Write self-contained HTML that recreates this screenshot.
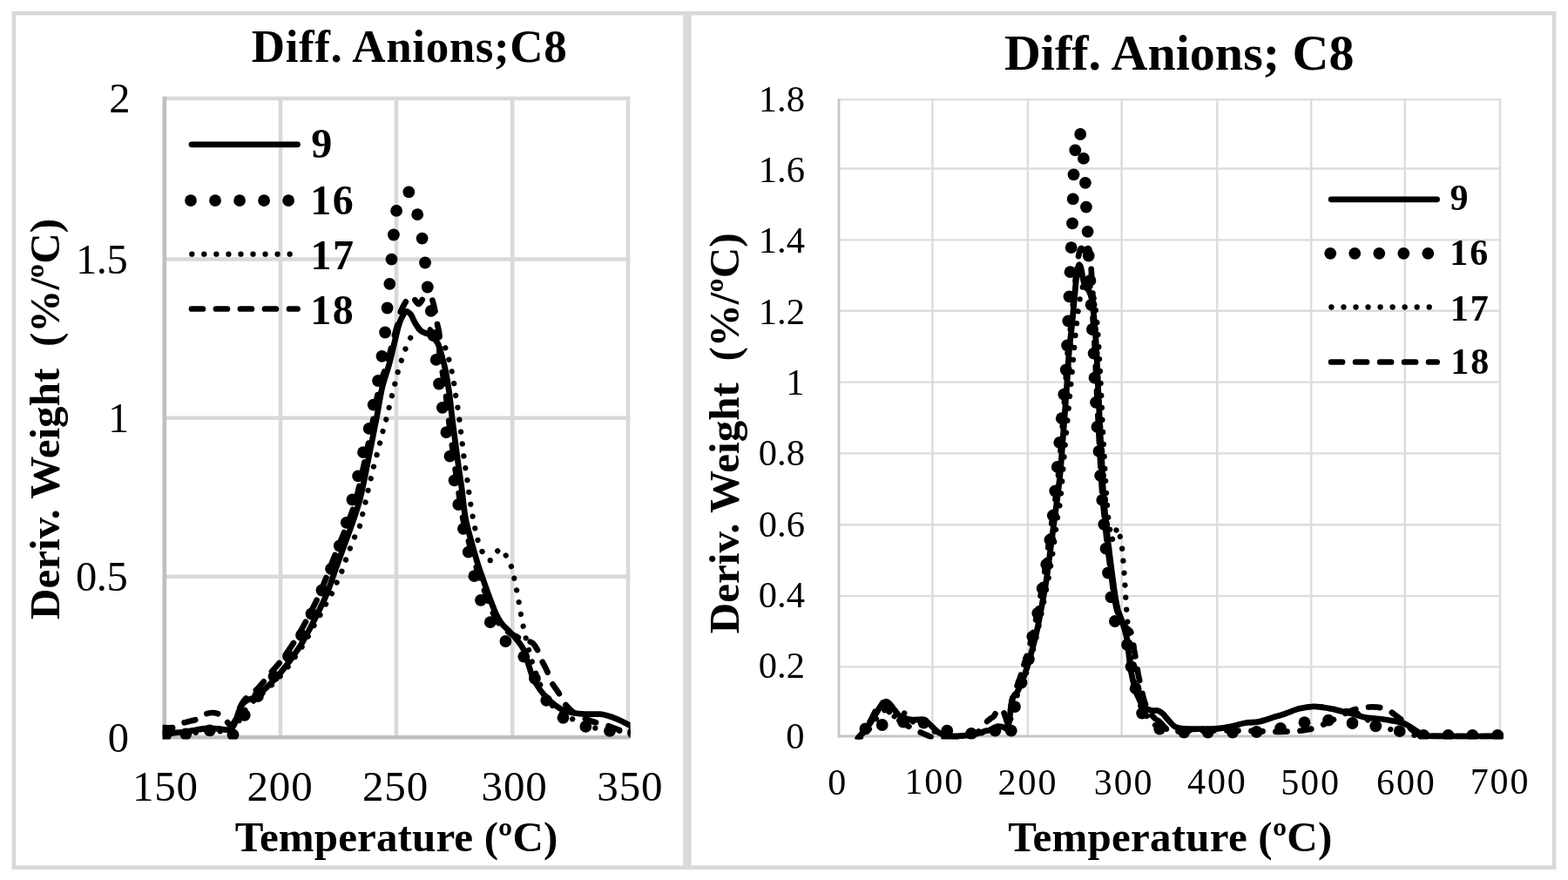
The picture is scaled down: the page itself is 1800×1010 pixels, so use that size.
<!DOCTYPE html>
<html lang="en"><head><meta charset="utf-8"><title>Diff. Anions; C8</title>
<style>html,body{margin:0;padding:0;background:#fff;}body{width:1800px;height:1010px;overflow:hidden;}svg{display:block;}text{font-family:'Liberation Serif', 'Times New Roman', serif;fill:#000;}.b{font-weight:bold;}.c{fill:none;stroke:#000;stroke-linejoin:round;}</style></head><body>
<svg width="1800" height="1010" viewBox="0 0 1800 1010">
<rect width="1800" height="1010" fill="#fff"/>
<g fill="none" stroke="#d9d9d9" stroke-width="4.7">
<rect x="15.95" y="15.2" width="770.6" height="980.5"/>
<rect x="791.25" y="15.2" width="992.8" height="980.5"/>
</g>
<g stroke="#d9d9d9" stroke-width="4.6" fill="none">
<line x1="322.0" y1="110.7" x2="322.0" y2="846.2"/>
<line x1="455.0" y1="110.7" x2="455.0" y2="846.2"/>
<line x1="588.2" y1="110.7" x2="588.2" y2="846.2"/>
<line x1="721.0" y1="110.7" x2="721.0" y2="846.2"/>
<line x1="188.8" y1="661.8" x2="723.3" y2="661.8"/>
<line x1="188.8" y1="479.75" x2="723.3" y2="479.75"/>
<line x1="188.8" y1="297.5" x2="723.3" y2="297.5"/>
<line x1="188.8" y1="113.0" x2="723.3" y2="113.0"/>
</g>
<g stroke="#bfbfbf" stroke-width="4.6" fill="none">
<line x1="188.8" y1="110.7" x2="188.8" y2="848.5"/>
<line x1="186.5" y1="846.2" x2="723.3" y2="846.2"/>
</g>
<g stroke="#dcdcdc" stroke-width="2.4" fill="none">
<line x1="1070.4" y1="113.2" x2="1070.4" y2="845"/>
<line x1="1179.9" y1="113.2" x2="1179.9" y2="845"/>
<line x1="1287.6" y1="113.2" x2="1287.6" y2="845"/>
<line x1="1397.3" y1="113.2" x2="1397.3" y2="845"/>
<line x1="1505.2" y1="113.2" x2="1505.2" y2="845"/>
<line x1="1612.7" y1="113.2" x2="1612.7" y2="845"/>
<line x1="1722.0" y1="113.2" x2="1722.0" y2="845"/>
<line x1="963" y1="765.4" x2="1723.2" y2="765.4"/>
<line x1="963" y1="684.1" x2="1723.2" y2="684.1"/>
<line x1="963" y1="602.3" x2="1723.2" y2="602.3"/>
<line x1="963" y1="520.4" x2="1723.2" y2="520.4"/>
<line x1="963" y1="438.6" x2="1723.2" y2="438.6"/>
<line x1="963" y1="356.75" x2="1723.2" y2="356.75"/>
<line x1="963" y1="275.4" x2="1723.2" y2="275.4"/>
<line x1="963" y1="193.55" x2="1723.2" y2="193.55"/>
<line x1="963" y1="114.4" x2="1723.2" y2="114.4"/>
</g>
<g stroke="#c6c6c6" stroke-width="2.8" fill="none">
<line x1="963" y1="113.2" x2="963" y2="846.2"/>
<line x1="961.8" y1="845" x2="1723.2" y2="845"/>
</g>
<defs>
<clipPath id="cl"><rect x="186.6" y="100" width="537" height="748.6"/></clipPath>
<clipPath id="cr"><rect x="961" y="100" width="764.8" height="748.6"/></clipPath>
</defs>
<g clip-path="url(#cl)">
<path class="c" stroke-width="6.3" stroke-linecap="round" stroke-dasharray="0.01 13.99" stroke-dashoffset="11.31" d="M180.0,842.0C183.3,842.0 193.3,842.2 200.0,842.0C206.7,841.8 213.3,841.3 220.0,841.0C226.7,840.7 233.7,840.3 240.0,840.0C246.3,839.7 253.5,839.3 258.0,839.0C262.5,838.7 264.7,839.2 267.0,838.0C269.3,836.8 270.2,835.0 272.0,832.0C273.8,829.0 275.8,823.7 278.0,820.0C280.2,816.3 282.5,812.8 285.0,810.0C287.5,807.2 290.5,805.2 293.0,803.0C295.5,800.8 297.2,799.5 300.0,797.0C302.8,794.5 306.7,791.2 310.0,788.0C313.3,784.8 316.7,781.7 320.0,778.0C323.3,774.3 326.7,770.3 330.0,766.0C333.3,761.7 336.7,756.8 340.0,752.0C343.3,747.2 346.5,742.8 350.0,737.0C353.5,731.2 357.9,722.7 360.8,717.5C363.7,712.3 365.3,709.8 367.5,705.8C369.7,701.8 372.0,697.4 374.2,693.3C376.4,689.2 378.7,685.5 380.8,681.3C382.9,677.1 384.8,672.6 386.7,668.3C388.6,664.0 390.8,659.6 392.5,655.4C394.2,651.2 395.2,647.5 396.7,643.3C398.2,639.1 400.0,634.4 401.7,630.0C403.4,625.6 404.9,621.4 406.8,617.0C408.7,612.6 411.4,608.2 413.0,603.8C414.6,599.3 415.1,594.8 416.2,590.3C417.3,585.8 418.4,581.2 419.5,576.7C420.6,572.2 421.5,567.6 422.5,563.0C423.5,558.4 424.6,553.9 425.7,549.3C426.8,544.7 427.9,539.9 429.0,535.4C430.1,530.9 431.4,526.5 432.6,522.0C433.8,517.5 435.0,512.9 436.2,508.3C437.4,503.8 438.4,499.2 439.6,494.7C440.8,490.2 442.1,485.8 443.3,481.4C444.5,476.9 445.5,472.6 446.6,468.0C447.7,463.4 448.9,458.6 450.0,454.0C451.1,449.4 452.3,444.8 453.4,440.2C454.5,435.6 455.6,431.1 456.8,426.7C458.0,422.3 459.4,418.2 460.8,413.8C462.2,409.4 463.7,404.8 465.5,400.4C467.3,396.0 469.3,390.9 471.4,387.3C473.5,383.7 475.7,380.9 478.0,379.0C480.3,377.1 482.7,376.2 485.0,376.0C487.3,375.8 489.7,376.6 492.0,377.5C494.3,378.4 496.8,379.7 499.0,381.5C501.2,383.3 503.4,385.4 505.5,388.5C507.6,391.6 509.9,395.8 511.5,399.9C513.1,404.0 514.2,408.5 515.4,412.9C516.6,417.3 517.7,421.8 518.7,426.3C519.7,430.9 520.5,435.6 521.2,440.2C522.0,444.8 522.5,449.5 523.2,454.1C523.9,458.7 524.7,463.1 525.4,467.7C526.1,472.3 526.8,477.2 527.4,481.9C528.0,486.6 528.5,491.1 529.1,495.8C529.7,500.5 530.2,505.1 530.8,509.8C531.3,514.5 531.8,519.1 532.4,523.7C533.0,528.3 533.7,533.0 534.4,537.6C535.1,542.2 535.9,546.7 536.5,551.3C537.1,555.9 537.7,560.4 538.3,565.0C538.9,569.6 539.6,574.3 540.3,578.9C541.0,583.5 541.8,588.0 542.6,592.6C543.4,597.2 544.3,601.7 545.3,606.3C546.3,610.9 547.2,615.7 548.6,620.2C550.0,624.7 551.2,629.3 553.6,633.1C556.0,636.9 559.9,643.3 562.8,643.2C565.7,643.1 569.0,634.5 571.2,632.4C573.4,630.3 574.4,629.6 576.0,630.5C577.6,631.4 579.0,634.4 580.9,637.8C582.8,641.2 585.5,646.3 587.1,650.7C588.7,655.1 589.4,659.7 590.4,664.2C591.4,668.8 592.4,673.4 593.3,678.0C594.2,682.6 595.0,687.2 595.8,691.8C596.6,696.4 597.3,701.2 598.1,705.8C598.9,710.4 599.8,715.0 600.8,719.5C601.8,724.0 602.8,728.3 603.8,732.7C604.8,737.1 605.8,741.5 607.0,746.0C608.2,750.5 609.5,755.2 611.0,760.0C612.5,764.8 614.2,770.0 616.0,775.0C617.8,780.0 619.7,785.0 622.0,790.0C624.3,795.0 626.7,800.5 630.0,805.0C633.3,809.5 637.2,813.5 642.0,817.0C646.8,820.5 651.4,822.8 658.5,825.9C665.6,829.0 675.5,833.7 684.5,835.9C693.5,838.1 705.0,838.2 712.6,838.9C720.2,839.6 727.1,839.8 730.0,840.0"/>
<path class="c" stroke-width="6.7" stroke-linecap="round" stroke-dasharray="13.0 15.0" stroke-dashoffset="23.10" d="M180.0,835.0C183.2,835.0 194.3,835.8 199.0,835.0C203.7,834.2 205.0,831.7 208.0,830.5C211.0,829.3 214.0,828.8 217.0,828.0C220.0,827.2 223.2,826.8 226.0,825.5C228.8,824.2 231.2,821.8 234.0,820.5C236.8,819.2 240.0,818.1 243.0,818.0C246.0,817.9 249.3,818.6 252.0,820.0C254.7,821.4 257.0,824.5 259.0,826.5C261.0,828.5 262.5,831.4 264.0,832.0C265.5,832.6 266.7,831.7 268.0,830.0C269.3,828.3 270.7,825.2 272.0,822.0C273.3,818.8 274.5,814.2 276.0,811.0C277.5,807.8 279.0,805.3 281.0,803.0C283.0,800.7 285.7,799.0 288.0,797.0C290.3,795.0 292.5,793.5 295.0,791.0C297.5,788.5 300.3,785.2 303.0,782.0C305.7,778.8 307.9,775.7 311.0,772.0C314.1,768.3 317.9,764.5 321.5,760.0C325.1,755.5 328.9,750.0 332.3,745.0C335.7,740.0 338.8,735.0 341.8,730.0C344.8,725.0 347.5,720.0 350.2,715.0C352.9,710.0 355.6,705.0 358.1,700.0C360.6,695.0 363.1,690.0 365.4,685.0C367.7,680.0 369.7,675.0 371.7,670.0C373.7,665.0 375.6,660.0 377.5,655.0C379.4,650.0 381.4,645.0 383.4,640.0C385.4,635.0 387.3,630.0 389.3,625.0C391.3,620.0 393.5,615.0 395.5,610.0C397.5,605.0 399.3,600.8 401.4,595.0C403.5,589.2 406.1,582.2 408.2,575.0C410.2,567.8 411.8,560.3 413.7,552.0C415.6,543.7 418.6,529.5 419.6,525.0"/>
<path class="c" stroke-width="6.7" stroke-linecap="round" stroke-dasharray="13.0 15.0" stroke-dashoffset="24.07" d="M419.6,525.0C421.1,517.8 425.7,495.3 428.3,482.0C430.9,468.7 432.5,455.8 435.2,445.0C437.9,434.2 441.7,426.2 444.4,417.0C447.1,407.8 449.4,397.5 451.4,390.0C453.4,382.5 455.1,377.3 456.5,372.0C457.9,366.7 458.2,362.3 459.8,358.0C461.4,353.7 464.3,348.8 466.0,346.0C467.7,343.2 468.7,342.3 470.0,341.5C471.3,340.7 472.2,339.8 474.0,341.0C475.8,342.2 478.4,348.9 480.6,349.0C482.8,349.1 484.6,342.7 487.0,341.5C489.4,340.3 493.0,339.8 495.0,342.0C497.0,344.2 497.8,350.0 499.0,355.0C500.2,360.0 501.1,367.0 502.0,372.0C502.9,377.0 504.1,378.9 504.5,385.0C504.9,391.1 504.0,402.1 504.5,408.8C505.0,415.6 506.4,418.5 507.6,425.5C508.8,432.5 510.3,441.5 511.5,450.6C512.7,459.7 513.2,466.9 514.9,480.2C516.6,493.5 519.7,517.1 521.5,530.4C523.3,543.7 524.2,549.5 525.8,560.0C527.4,570.5 529.0,583.5 531.0,593.5C533.0,603.5 535.5,611.8 537.7,620.2C539.9,628.6 543.3,639.8 544.4,643.7"/>
<path class="c" stroke-width="6.7" stroke-linecap="round" stroke-dasharray="13.0 15.0" stroke-dashoffset="20.27" d="M544.4,643.7C545.5,647.0 548.6,656.5 551.1,663.7C553.6,671.0 557.0,680.5 559.5,687.2C562.0,693.9 563.9,699.2 566.1,703.9C568.3,708.6 570.2,712.2 572.8,715.6C575.4,719.0 578.4,721.6 581.5,724.0C584.6,726.4 588.6,728.3 591.7,730.0C594.8,731.7 597.5,733.0 600.0,734.0C602.5,735.0 605.0,735.2 607.0,736.0C609.0,736.8 610.3,736.8 612.0,738.5C613.7,740.2 615.4,742.9 617.0,746.0C618.6,749.1 619.5,752.9 621.4,756.9C623.2,760.9 626.1,766.0 628.1,770.3C630.1,774.6 630.9,778.7 633.1,782.9C635.3,787.1 639.0,791.5 641.4,795.4C643.8,799.3 644.9,802.9 647.3,806.3C649.7,809.6 652.8,812.9 655.7,815.5C658.7,818.1 661.0,819.9 665.0,822.0C669.0,824.1 674.9,826.3 680.0,828.0C685.1,829.7 690.1,830.4 695.8,832.2C701.5,834.0 708.3,837.3 714.0,838.9C719.7,840.5 727.3,841.5 730.0,842.0"/>
<path class="c" stroke-width="6.8" stroke-linecap="round" d="M180.0,841.0C183.3,841.0 194.5,841.2 200.0,841.0C205.5,840.8 208.7,840.6 213.0,840.0C217.3,839.4 221.8,838.2 226.0,837.5C230.2,836.8 233.8,836.2 238.0,836.0C242.2,835.8 246.8,836.2 251.0,836.5C255.2,836.8 260.2,837.9 263.0,837.5C265.8,837.1 266.2,835.6 267.5,834.0C268.8,832.4 269.4,830.8 270.5,828.0C271.6,825.2 272.7,820.3 274.0,817.0C275.3,813.7 276.8,810.2 278.5,808.0C280.2,805.8 281.9,804.7 284.0,803.5C286.1,802.3 288.5,802.4 291.0,801.0C293.5,799.6 296.2,797.2 299.0,795.0C301.8,792.8 304.8,790.0 307.5,787.5C310.2,785.0 312.4,782.8 315.0,780.0C317.6,777.2 320.5,774.0 323.0,771.0C325.5,768.0 327.6,765.2 330.0,762.0C332.4,758.8 334.4,756.2 337.3,752.0C340.2,747.8 344.0,742.5 347.3,736.9C350.6,731.3 354.0,724.9 357.3,718.5C360.6,712.1 364.3,704.8 367.4,698.4C370.5,692.0 372.8,687.6 375.8,680.0C378.8,672.4 382.2,661.8 385.5,652.6C388.8,643.4 392.2,633.9 395.5,625.0C398.8,616.1 402.0,607.8 405.0,599.0C408.0,590.2 410.5,583.6 413.4,572.2C416.3,560.8 419.1,545.7 422.2,530.4C425.3,515.1 429.4,494.4 432.2,480.2C434.9,466.0 436.2,455.5 438.7,445.0C441.2,434.5 443.9,428.7 447.0,417.1C450.1,405.5 454.7,384.3 457.2,375.3C459.7,366.3 460.6,365.9 462.0,363.0C463.4,360.1 464.3,358.4 465.5,357.7C466.7,356.9 467.9,357.8 469.0,358.5C470.1,359.2 470.8,359.7 472.2,361.9C473.6,364.1 475.2,368.8 477.2,371.9C479.1,375.0 481.1,378.2 483.9,380.3C486.7,382.4 490.9,382.3 494.0,384.5C497.1,386.7 500.1,389.6 502.3,393.7C504.5,397.8 505.8,403.5 507.3,408.8C508.8,414.1 510.1,418.5 511.5,425.5C512.9,432.5 514.4,441.5 515.7,450.6C517.0,459.7 517.4,466.9 519.1,480.2C520.8,493.5 523.9,517.1 525.7,530.4C527.5,543.7 528.6,549.5 530.0,560.0C531.4,570.5 532.4,583.5 534.2,593.5C536.0,603.5 538.5,611.8 540.7,620.2C542.9,628.6 545.2,636.5 547.4,643.7C549.6,651.0 551.6,656.5 554.1,663.7C556.6,671.0 560.0,680.5 562.5,687.2C565.0,693.9 566.9,699.2 569.1,703.9C571.3,708.6 573.3,712.2 575.8,715.6C578.3,719.0 581.4,721.0 584.2,724.0C587.0,727.0 589.8,730.0 592.6,733.5C595.4,737.0 598.7,740.7 600.9,745.2C603.1,749.7 604.2,755.0 606.0,760.3C607.8,765.6 609.1,771.7 611.5,777.0C613.9,782.3 617.1,787.6 620.3,792.1C623.5,796.6 626.6,800.2 630.6,803.8C634.6,807.4 639.5,811.4 644.0,813.8C648.5,816.2 652.7,817.0 657.4,818.0C662.1,819.0 667.1,819.4 672.4,819.7C677.7,820.0 684.1,819.2 689.1,819.7C694.1,820.2 698.3,821.6 702.5,823.0C706.7,824.4 710.9,826.5 714.2,828.0C717.6,829.5 720.0,830.9 722.6,832.2C725.2,833.5 728.8,835.4 730.0,836.0"/>
<g fill="#000">
<circle cx="190.0" cy="844.0" r="6.9"/>
<circle cx="213.3" cy="842.5" r="6.9"/>
<circle cx="240.8" cy="838.3" r="6.9"/>
<circle cx="267.5" cy="843.3" r="6.9"/>
<circle cx="280.8" cy="820.8" r="6.9"/>
<circle cx="296.0" cy="799.0" r="6.9"/>
<circle cx="314.6" cy="776.3" r="6.9"/>
<circle cx="331.0" cy="753.0" r="6.9"/>
<circle cx="346.0" cy="729.0" r="6.9"/>
<circle cx="357.5" cy="704.5" r="6.9"/>
<circle cx="369.5" cy="677.5" r="6.9"/>
<circle cx="380.0" cy="652.8" r="6.9"/>
<circle cx="389.8" cy="626.5" r="6.9"/>
<circle cx="397.7" cy="599.8" r="6.9"/>
<circle cx="404.5" cy="573.5" r="6.9"/>
<circle cx="411.1" cy="546.3" r="6.9"/>
<circle cx="417.0" cy="519.2" r="6.9"/>
<circle cx="423.7" cy="491.9" r="6.9"/>
<circle cx="428.7" cy="464.6" r="6.9"/>
<circle cx="434.0" cy="437.0" r="6.9"/>
<circle cx="438.4" cy="408.8" r="6.9"/>
<circle cx="442.1" cy="381.5" r="6.9"/>
<circle cx="444.6" cy="353.5" r="6.9"/>
<circle cx="447.3" cy="325.8" r="6.9"/>
<circle cx="449.5" cy="297.6" r="6.9"/>
<circle cx="451.9" cy="269.5" r="6.9"/>
<circle cx="455.1" cy="241.9" r="6.9"/>
<circle cx="469.3" cy="220.3" r="6.9"/>
<circle cx="479.2" cy="246.2" r="6.9"/>
<circle cx="484.6" cy="273.6" r="6.9"/>
<circle cx="488.0" cy="301.5" r="6.9"/>
<circle cx="490.8" cy="329.5" r="6.9"/>
<circle cx="494.8" cy="356.9" r="6.9"/>
<circle cx="497.5" cy="385.0" r="6.9"/>
<circle cx="500.7" cy="412.9" r="6.9"/>
<circle cx="504.0" cy="440.5" r="6.9"/>
<circle cx="507.8" cy="467.8" r="6.9"/>
<circle cx="512.4" cy="496.1" r="6.9"/>
<circle cx="516.5" cy="523.7" r="6.9"/>
<circle cx="521.6" cy="551.3" r="6.9"/>
<circle cx="526.3" cy="579.0" r="6.9"/>
<circle cx="531.9" cy="606.8" r="6.9"/>
<circle cx="537.7" cy="633.6" r="6.9"/>
<circle cx="544.4" cy="661.2" r="6.9"/>
<circle cx="551.9" cy="688.8" r="6.9"/>
<circle cx="562.8" cy="714.1" r="6.9"/>
<circle cx="580.4" cy="736.0" r="6.9"/>
<circle cx="601.3" cy="753.6" r="6.9"/>
<circle cx="613.9" cy="778.7" r="6.9"/>
<circle cx="627.2" cy="803.8" r="6.9"/>
<circle cx="646.5" cy="823.8" r="6.9"/>
<circle cx="672.4" cy="833.9" r="6.9"/>
<circle cx="700.0" cy="838.9" r="6.9"/>
<circle cx="727.0" cy="841.0" r="6.9"/>
</g></g>
<g clip-path="url(#cr)">
<path class="c" stroke-width="6.3" stroke-linecap="round" stroke-dasharray="0.01 13.99" stroke-dashoffset="11.61" d="M986.0,848.0C986.8,847.3 989.2,845.7 991.0,844.0C992.8,842.3 995.0,840.3 997.0,838.0C999.0,835.7 1001.2,832.7 1003.0,830.0C1004.8,827.3 1006.3,824.2 1008.0,822.0C1009.7,819.8 1011.3,817.7 1013.0,816.5C1014.7,815.3 1016.3,814.6 1018.0,815.0C1019.7,815.4 1021.2,817.7 1023.0,819.0C1024.8,820.3 1026.8,823.2 1029.0,823.0C1031.2,822.8 1034.0,817.7 1036.0,817.5C1038.0,817.3 1039.2,820.2 1041.0,822.0C1042.8,823.8 1044.7,826.7 1047.0,828.0C1049.3,829.3 1052.5,829.3 1055.0,830.0C1057.5,830.7 1059.8,831.0 1062.0,832.0C1064.2,833.0 1065.8,834.5 1068.0,836.0C1070.2,837.5 1072.2,839.5 1075.0,841.0C1077.8,842.5 1080.8,844.2 1085.0,845.0C1089.2,845.8 1095.0,845.7 1100.0,845.5C1105.0,845.3 1111.3,844.4 1115.0,844.0C1118.7,843.6 1119.5,843.6 1122.0,843.0C1124.5,842.4 1127.5,841.0 1130.3,840.3C1133.0,839.7 1135.7,839.6 1138.4,839.2C1141.1,838.9 1144.0,838.5 1146.6,838.1C1149.1,837.8 1152.1,837.4 1153.9,837.0C1155.7,836.7 1156.6,837.2 1157.6,835.9C1158.5,834.6 1158.9,832.6 1159.6,829.3C1160.3,826.0 1161.2,820.0 1162.0,816.0C1162.9,811.9 1163.9,808.1 1164.9,804.9C1165.9,801.8 1167.1,799.6 1168.2,797.2C1169.2,794.8 1169.9,793.3 1171.0,790.5C1172.2,787.7 1173.7,784.1 1175.1,780.6C1176.4,777.0 1177.8,773.5 1179.2,769.5C1180.5,765.4 1181.9,761.0 1183.2,756.2C1184.6,751.4 1186.0,746.0 1187.3,740.7C1188.7,735.3 1190.0,730.4 1191.4,724.1C1192.8,717.7 1194.6,708.2 1195.8,702.5C1197.0,696.7 1197.6,694.0 1198.5,689.5C1199.4,685.1 1200.4,680.2 1201.3,675.7C1202.2,671.2 1203.1,667.0 1203.9,662.4C1204.8,657.8 1205.6,652.8 1206.4,648.0C1207.1,643.2 1208.0,638.3 1208.7,633.7C1209.4,629.1 1209.8,625.0 1210.4,620.3C1211.1,615.6 1211.8,610.4 1212.5,605.6C1213.2,600.7 1213.8,596.0 1214.5,591.2C1215.3,586.4 1216.4,581.5 1217.1,576.6C1217.7,571.6 1217.9,566.6 1218.4,561.6C1218.8,556.6 1219.3,551.6 1219.7,546.6C1220.1,541.5 1220.5,536.5 1220.9,531.4C1221.4,526.3 1221.8,521.3 1222.2,516.2C1222.7,511.1 1223.1,505.9 1223.6,500.8C1224.1,495.8 1224.6,491.0 1225.1,486.0C1225.5,481.0 1226.1,475.9 1226.5,470.8C1227.0,465.8 1227.4,460.7 1227.9,455.8C1228.4,450.8 1228.9,446.0 1229.4,441.0C1229.9,436.1 1230.3,431.3 1230.8,426.2C1231.2,421.1 1231.7,415.8 1232.2,410.7C1232.6,405.6 1233.1,400.4 1233.5,395.4C1234.0,390.4 1234.4,385.3 1234.9,380.5C1235.4,375.6 1236.0,371.0 1236.6,366.2C1237.1,361.3 1237.8,356.2 1238.5,351.3C1239.2,346.4 1240.0,340.8 1240.9,336.8C1241.7,332.9 1242.6,329.7 1243.6,327.6C1244.5,325.6 1245.5,324.6 1246.4,324.3C1247.4,324.0 1248.3,325.0 1249.3,326.0C1250.2,327.0 1251.2,328.4 1252.1,330.4C1253.0,332.4 1253.9,334.8 1254.8,338.2C1255.6,341.6 1256.5,346.3 1257.2,350.8C1257.9,355.3 1258.3,360.3 1258.8,365.2C1259.3,370.1 1259.8,375.0 1260.2,380.0C1260.5,385.1 1260.9,390.3 1261.2,395.4C1261.5,400.5 1261.7,405.7 1262.0,410.8C1262.3,415.9 1262.6,420.7 1262.9,425.9C1263.2,431.0 1263.4,436.4 1263.7,441.6C1264.0,446.8 1264.2,451.8 1264.4,457.0C1264.6,462.1 1264.9,467.3 1265.1,472.5C1265.3,477.6 1265.5,482.7 1265.7,487.9C1266.0,493.0 1266.3,498.2 1266.6,503.3C1266.8,508.4 1267.1,513.4 1267.4,518.4C1267.7,523.5 1267.9,528.5 1268.1,533.6C1268.4,538.7 1268.7,543.9 1269.0,549.0C1269.3,554.1 1269.6,559.1 1269.9,564.2C1270.2,569.2 1270.6,574.2 1271.0,579.3C1271.4,584.4 1271.8,589.8 1272.3,594.7C1272.9,599.7 1274.0,606.6 1274.4,609.0"/>
<path class="c" stroke-width="6.3" stroke-linecap="round" stroke-dasharray="0.01 13.99" stroke-dashoffset="3.91" d="M1274.4,609.0C1275.0,610.9 1276.9,620.3 1278.1,620.2C1279.3,620.1 1280.7,610.6 1281.6,608.2C1282.4,605.9 1282.9,605.1 1283.5,606.1C1284.2,607.1 1284.8,610.5 1285.5,614.2C1286.3,618.0 1287.4,623.6 1288.0,628.5C1288.7,633.4 1289.0,638.4 1289.4,643.5C1289.8,648.5 1290.2,653.6 1290.6,658.7C1290.9,663.8 1291.3,668.9 1291.6,674.0C1291.9,679.2 1292.2,684.4 1292.5,689.5C1292.9,694.6 1293.2,699.7 1293.6,704.7C1294.0,709.7 1294.4,714.4 1294.8,719.3C1295.3,724.2 1295.7,729.0 1296.1,734.0C1296.6,739.1 1297.2,744.2 1297.8,749.5C1298.4,754.9 1299.1,760.6 1299.8,766.2C1300.6,771.7 1301.3,777.2 1302.3,782.8C1303.2,788.3 1304.2,794.4 1305.5,799.4C1306.9,804.4 1308.5,808.8 1310.4,812.7C1312.3,816.5 1314.2,819.0 1317.1,822.5C1320.0,826.0 1324.1,831.2 1327.7,833.6C1331.4,836.0 1335.5,836.2 1339.2,836.9C1342.9,837.7 1346.2,838.0 1350.0,838.0C1353.8,838.0 1357.8,837.2 1362.0,837.0C1366.2,836.8 1370.3,836.8 1375.0,836.7C1379.7,836.7 1385.8,836.8 1390.0,836.7C1394.2,836.6 1396.4,836.4 1400.0,836.0C1403.6,835.6 1407.0,835.2 1411.7,834.2C1416.4,833.2 1422.8,831.0 1428.3,830.0C1433.8,829.0 1439.4,829.4 1445.0,828.3C1450.6,827.2 1456.7,824.8 1461.7,823.3C1466.7,821.8 1470.0,820.9 1475.0,819.2C1480.0,817.5 1486.2,814.7 1491.7,813.3C1497.2,811.9 1502.8,810.9 1508.3,810.8C1513.8,810.7 1519.4,811.7 1525.0,812.5C1530.6,813.3 1536.7,814.8 1541.7,815.5C1546.7,816.2 1551.0,815.6 1555.0,817.0C1559.0,818.4 1561.8,821.6 1566.0,824.0C1570.2,826.4 1575.5,829.5 1580.0,831.5C1584.5,833.5 1588.8,834.8 1593.3,836.2C1597.8,837.7 1602.5,838.8 1607.0,840.0C1611.5,841.2 1615.5,842.5 1620.0,843.3C1624.5,844.1 1627.3,844.7 1634.0,845.0C1640.7,845.3 1644.0,845.0 1660.0,845.0C1676.0,845.0 1718.3,845.0 1730.0,845.0"/>
<path class="c" stroke-width="6.7" stroke-linecap="round" stroke-dasharray="13.0 15.0" stroke-dashoffset="4.80" d="M985.0,847.0C985.8,846.0 988.3,843.2 990.0,841.0C991.7,838.8 993.3,836.5 995.0,834.0C996.7,831.5 998.4,828.8 1000.0,826.0C1001.6,823.2 1003.2,819.8 1004.5,817.0C1005.8,814.2 1006.9,810.8 1008.0,809.0C1009.1,807.2 1009.9,806.1 1011.0,806.0C1012.1,805.9 1013.2,807.0 1014.5,808.5C1015.8,810.0 1017.1,812.8 1019.0,815.0C1020.9,817.2 1023.5,819.8 1026.0,822.0C1028.5,824.2 1031.3,826.2 1034.0,828.0C1036.7,829.8 1039.3,831.4 1042.0,833.0C1044.7,834.6 1047.0,836.0 1050.0,837.5C1053.0,839.0 1056.7,840.6 1060.0,842.0C1063.3,843.4 1065.8,845.2 1070.0,846.0C1074.2,846.8 1080.0,847.0 1085.0,847.0C1090.0,847.0 1095.0,846.7 1100.0,846.0C1105.0,845.3 1111.3,843.9 1115.0,843.0C1118.7,842.1 1119.5,842.2 1122.0,840.5C1124.5,838.8 1127.9,834.7 1129.8,832.6C1131.8,830.4 1132.3,828.9 1133.5,827.6C1134.7,826.3 1136.0,825.8 1137.2,824.8C1138.4,823.9 1139.7,823.5 1140.9,822.1C1142.0,820.7 1143.0,817.9 1144.1,816.5C1145.3,815.2 1146.6,813.9 1147.8,813.8C1149.0,813.7 1150.4,814.4 1151.4,816.0C1152.5,817.6 1153.5,821.0 1154.3,823.2C1155.1,825.4 1155.7,828.6 1156.3,829.3C1157.0,829.9 1157.4,828.9 1158.0,827.1C1158.5,825.2 1159.1,821.7 1159.6,818.2C1160.1,814.7 1160.6,809.5 1161.2,806.0C1161.8,802.5 1162.5,799.7 1163.3,797.2C1164.1,794.6 1165.2,792.7 1166.1,790.5C1167.1,788.3 1168.0,786.6 1169.0,783.9C1170.0,781.1 1171.1,777.4 1172.2,773.9C1173.3,770.4 1175.0,764.7 1175.5,762.8"/>
<path class="c" stroke-width="6.7" stroke-linecap="round" stroke-dasharray="13.0 15.0" stroke-dashoffset="2.72" d="M1175.5,762.8C1176.2,760.6 1178.3,754.5 1179.8,749.5C1181.2,744.6 1182.8,738.5 1184.2,732.9C1185.6,727.4 1186.8,721.9 1188.1,716.3C1189.3,710.8 1190.4,705.3 1191.5,699.7C1192.6,694.2 1193.7,688.6 1194.7,683.1C1195.7,677.6 1196.7,672.0 1197.7,666.5C1198.6,661.0 1199.4,655.4 1200.2,649.9C1201.1,644.3 1201.8,638.8 1202.6,633.3C1203.4,627.7 1204.2,622.2 1205.0,616.7C1205.8,611.1 1206.6,605.6 1207.4,600.1C1208.2,594.5 1209.1,589.0 1209.9,583.4C1210.8,577.9 1211.5,573.3 1212.3,566.8C1213.2,560.4 1214.3,552.6 1215.1,544.7C1216.0,536.7 1216.6,528.4 1217.4,519.2C1218.1,510.0 1218.8,502.2 1219.8,489.3C1220.8,476.4 1222.2,456.5 1223.3,441.7C1224.4,426.9 1225.0,412.7 1226.1,400.7C1227.2,388.7 1228.8,379.9 1229.9,369.7C1231.0,359.6 1231.9,348.1 1232.7,339.8C1233.5,331.5 1234.2,325.8 1234.8,319.9C1235.4,314.0 1235.5,309.2 1236.1,304.4C1236.8,299.6 1238.0,294.1 1238.7,291.1C1239.4,288.0 1239.8,287.0 1240.3,286.1C1240.8,285.2 1241.2,284.2 1241.9,285.6C1242.7,286.9 1243.7,294.3 1244.6,294.4C1245.5,294.5 1246.3,287.4 1247.2,286.1C1248.2,284.8 1249.7,284.2 1250.5,286.7C1251.3,289.2 1251.6,295.5 1252.1,301.1C1252.6,306.6 1253.0,314.3 1253.3,319.9C1253.7,325.4 1254.2,327.5 1254.4,334.3C1254.5,341.1 1254.2,353.2 1254.4,360.6C1254.6,368.1 1255.2,371.4 1255.6,379.1C1256.1,386.8 1256.7,396.8 1257.2,406.9C1257.7,417.0 1257.9,425.0 1258.6,439.7C1259.3,454.4 1260.8,486.0 1261.3,495.3"/>
<path class="c" stroke-width="6.7" stroke-linecap="round" stroke-dasharray="13.0 15.0" stroke-dashoffset="0.00" d="M1261.3,495.3C1261.6,500.8 1262.4,516.4 1263.0,528.1C1263.7,539.7 1264.4,554.1 1265.2,565.2C1266.0,576.3 1267.0,585.5 1267.9,594.7C1268.8,604.0 1269.7,612.7 1270.6,620.8C1271.5,628.8 1272.3,634.9 1273.4,642.9C1274.4,650.9 1275.8,661.5 1276.8,668.9C1277.8,676.3 1278.6,682.2 1279.5,687.4C1280.4,692.7 1281.2,696.7 1282.2,700.4C1283.3,704.1 1284.5,707.0 1285.8,709.7C1287.0,712.3 1288.7,714.5 1289.9,716.3C1291.2,718.2 1292.3,719.6 1293.3,720.8C1294.3,721.9 1295.3,722.1 1296.1,723.0C1297.0,723.8 1297.5,723.9 1298.2,725.7C1298.9,727.6 1299.6,730.6 1300.2,734.0C1300.9,737.4 1301.3,741.6 1302.0,746.1C1302.8,750.6 1303.9,756.2 1304.7,761.0C1305.5,765.7 1305.9,770.3 1306.8,774.9C1307.7,779.5 1309.2,784.4 1310.2,788.7C1311.1,793.1 1311.6,797.1 1312.6,800.8C1313.5,804.5 1314.8,808.1 1316.0,811.0C1317.2,813.9 1318.1,815.9 1319.8,818.2C1321.4,820.5 1324.9,823.7 1325.9,824.8"/>
<path class="c" stroke-width="6.7" stroke-linecap="round" stroke-dasharray="13.0 15.0" stroke-dashoffset="24.40" d="M1325.9,824.8C1327.0,825.6 1330.0,827.5 1332.3,829.5C1334.6,831.5 1336.8,835.2 1339.8,836.9C1342.7,838.6 1347.0,839.2 1350.0,839.5C1353.0,839.8 1352.0,838.9 1358.0,838.7C1364.0,838.5 1376.7,838.5 1386.0,838.5C1395.3,838.5 1404.7,838.4 1414.0,838.5C1423.3,838.6 1434.3,838.8 1442.0,839.0C1449.7,839.2 1453.8,839.7 1460.0,839.8C1466.2,839.9 1474.0,839.6 1479.0,839.5C1484.0,839.4 1486.5,839.3 1490.0,839.0C1493.5,838.7 1497.0,838.0 1500.0,837.5C1503.0,837.0 1505.3,836.8 1508.0,836.0C1510.7,835.2 1513.3,834.2 1516.0,833.0C1518.7,831.8 1521.2,830.3 1524.0,829.0C1526.8,827.7 1529.8,826.6 1533.0,825.0C1536.2,823.4 1539.7,821.2 1543.0,819.5C1546.3,817.8 1549.7,816.2 1553.0,815.0C1556.3,813.8 1559.8,813.1 1563.0,812.5C1566.2,811.9 1569.0,811.6 1572.0,811.5C1575.0,811.4 1578.2,811.4 1581.0,811.7C1583.8,812.0 1586.5,812.4 1589.0,813.2C1591.5,814.0 1593.8,815.2 1596.0,816.5C1598.2,817.8 1600.1,819.6 1602.0,821.0C1603.9,822.4 1605.7,823.5 1607.5,825.0C1609.3,826.5 1611.1,828.2 1613.0,830.0C1614.9,831.8 1616.8,834.1 1619.0,836.0C1621.2,837.9 1623.5,840.1 1626.0,841.5C1628.5,842.9 1628.3,843.9 1634.0,844.5C1639.7,845.1 1644.0,844.9 1660.0,845.0C1676.0,845.1 1718.3,845.0 1730.0,845.0"/>
<path class="c" stroke-width="6.8" stroke-linecap="round" d="M985.0,847.0C985.8,846.2 988.2,844.0 990.0,842.0C991.8,840.0 993.7,837.5 995.5,835.0C997.3,832.5 999.2,829.8 1001.0,827.0C1002.8,824.2 1004.4,821.2 1006.0,818.5C1007.6,815.8 1009.1,813.0 1010.5,811.0C1011.9,809.0 1013.2,807.5 1014.5,806.5C1015.8,805.5 1016.8,805.0 1018.0,805.3C1019.2,805.6 1020.5,806.9 1022.0,808.5C1023.5,810.1 1025.3,812.9 1027.0,815.0C1028.7,817.1 1030.2,819.5 1032.0,821.0C1033.8,822.5 1035.8,823.2 1038.0,824.0C1040.2,824.8 1042.5,825.7 1045.0,826.0C1047.5,826.3 1050.5,826.0 1053.0,826.0C1055.5,826.0 1057.8,825.3 1060.0,826.0C1062.2,826.7 1064.0,828.3 1066.0,830.0C1068.0,831.7 1070.0,834.2 1072.0,836.0C1074.0,837.8 1075.8,839.7 1078.0,841.0C1080.2,842.3 1081.8,843.3 1085.0,844.0C1088.2,844.7 1092.8,845.0 1097.0,845.0C1101.2,845.0 1106.2,844.4 1110.0,844.0C1113.8,843.6 1116.6,843.3 1120.0,842.5C1123.4,841.7 1127.7,840.0 1130.3,839.2C1132.8,838.5 1133.8,838.8 1135.6,838.1C1137.3,837.5 1139.2,836.1 1140.9,835.4C1142.6,834.6 1144.0,833.9 1145.7,833.7C1147.4,833.5 1149.3,834.0 1151.0,834.3C1152.7,834.5 1154.8,835.8 1155.9,835.4C1157.1,834.9 1157.3,833.2 1157.8,831.5C1158.3,829.7 1158.5,828.0 1159.0,824.8C1159.4,821.7 1159.9,816.4 1160.4,812.7C1161.0,809.0 1161.6,805.2 1162.3,802.7C1162.9,800.2 1163.6,799.0 1164.5,797.7C1165.3,796.4 1166.3,796.5 1167.3,794.9C1168.4,793.4 1169.5,790.8 1170.6,788.3C1171.7,785.8 1173.0,782.8 1174.1,780.0C1175.2,777.2 1176.1,774.7 1177.1,771.7C1178.2,768.6 1179.4,765.0 1180.4,761.7C1181.4,758.4 1182.3,755.3 1183.2,751.8C1184.2,748.3 1185.0,745.3 1186.2,740.7C1187.4,736.1 1188.9,730.1 1190.3,724.0C1191.7,717.8 1193.0,710.7 1194.4,703.6C1195.7,696.5 1197.2,688.4 1198.5,681.3C1199.7,674.2 1200.7,669.4 1201.9,661.0C1203.1,652.5 1204.5,640.8 1205.9,630.6C1207.2,620.5 1208.6,609.9 1209.9,600.1C1211.3,590.2 1212.6,581.0 1213.8,571.3C1215.0,561.5 1216.1,554.2 1217.2,541.6C1218.4,528.9 1219.5,512.3 1220.8,495.3C1222.1,478.3 1223.8,455.5 1224.9,439.7C1226.0,423.9 1226.5,412.4 1227.5,400.7C1228.6,389.1 1229.7,382.7 1230.9,369.8C1232.2,357.0 1234.1,333.5 1235.1,323.5C1236.1,313.6 1236.5,313.2 1237.0,309.9C1237.6,306.7 1238.0,304.9 1238.5,304.1C1238.9,303.2 1239.4,304.2 1239.9,304.9C1240.4,305.7 1240.6,306.2 1241.2,308.7C1241.8,311.2 1242.4,316.4 1243.2,319.8C1244.0,323.2 1244.8,326.8 1246.0,329.1C1247.1,331.4 1248.8,331.3 1250.1,333.7C1251.3,336.2 1252.6,339.4 1253.5,343.9C1254.4,348.4 1254.9,354.8 1255.5,360.6C1256.1,366.5 1256.6,371.4 1257.2,379.1C1257.8,386.8 1258.4,396.8 1258.9,406.9C1259.4,417.0 1259.6,425.0 1260.3,439.7C1261.0,454.4 1262.3,480.6 1263.0,495.3C1263.7,510.0 1264.2,516.4 1264.8,528.1C1265.3,539.7 1265.7,554.1 1266.5,565.2C1267.2,576.3 1268.2,585.5 1269.1,594.7C1270.0,604.0 1270.9,612.7 1271.9,620.8C1272.8,628.8 1273.6,634.9 1274.6,642.9C1275.6,650.9 1277.0,661.5 1278.0,668.9C1279.0,676.3 1279.8,682.2 1280.7,687.4C1281.6,692.7 1282.4,696.7 1283.4,700.4C1284.5,704.1 1285.7,706.4 1286.9,709.7C1288.0,713.0 1289.1,716.3 1290.3,720.2C1291.4,724.1 1292.7,728.2 1293.7,733.2C1294.6,738.1 1295.0,744.0 1295.7,749.9C1296.5,755.7 1297.0,762.5 1298.0,768.4C1299.0,774.2 1300.3,780.1 1301.6,785.1C1302.9,790.0 1304.2,794.0 1305.8,798.0C1307.4,802.1 1309.4,806.5 1311.2,809.1C1313.0,811.7 1314.8,812.7 1316.7,813.8C1318.6,814.9 1320.6,815.3 1322.8,815.7C1325.0,816.0 1327.6,815.0 1329.6,815.7C1331.7,816.3 1333.4,817.8 1335.1,819.3C1336.8,820.8 1337.5,822.4 1339.8,824.8C1342.2,827.3 1345.5,832.3 1349.2,834.2C1352.9,836.1 1357.7,836.1 1362.0,836.5C1366.3,836.9 1370.3,836.7 1375.0,836.7C1379.7,836.7 1385.8,836.8 1390.0,836.7C1394.2,836.6 1396.4,836.4 1400.0,836.0C1403.6,835.6 1407.0,835.2 1411.7,834.2C1416.4,833.2 1422.8,831.0 1428.3,830.0C1433.8,829.0 1439.4,829.4 1445.0,828.3C1450.6,827.2 1456.7,824.8 1461.7,823.3C1466.7,821.8 1470.0,820.9 1475.0,819.2C1480.0,817.5 1486.2,814.7 1491.7,813.3C1497.2,811.9 1502.8,810.9 1508.3,810.8C1513.8,810.7 1519.4,811.9 1525.0,812.9C1530.6,813.9 1536.7,815.5 1541.7,816.7C1546.7,817.9 1550.8,818.9 1555.0,820.0C1559.2,821.1 1562.0,822.5 1566.7,823.3C1571.4,824.1 1577.8,824.3 1583.3,825.0C1588.8,825.7 1595.5,826.8 1600.0,827.5C1604.5,828.2 1607.2,828.6 1610.0,829.5C1612.8,830.4 1614.9,831.8 1617.0,833.0C1619.1,834.2 1620.2,835.2 1622.5,836.7C1624.8,838.2 1627.9,840.4 1630.8,841.7C1633.7,843.0 1636.8,844.1 1640.0,844.6C1643.2,845.1 1635.0,844.9 1650.0,845.0C1665.0,845.1 1716.7,845.0 1730.0,845.0"/>
<g fill="#000">
<circle cx="993.5" cy="836.5" r="6.9"/>
<circle cx="1012.7" cy="832.0" r="6.9"/>
<circle cx="1037.0" cy="828.7" r="6.9"/>
<circle cx="1060.4" cy="829.5" r="6.9"/>
<circle cx="1087.2" cy="838.7" r="6.9"/>
<circle cx="1115.0" cy="842.0" r="6.9"/>
<circle cx="1142.4" cy="838.7" r="6.9"/>
<circle cx="1160.8" cy="838.7" r="6.9"/>
<circle cx="1165.0" cy="811.1" r="6.9"/>
<circle cx="1172.5" cy="783.5" r="6.9"/>
<circle cx="1180.9" cy="756.7" r="6.9"/>
<circle cx="1185.3" cy="730.6" r="6.9"/>
<circle cx="1191.2" cy="703.8" r="6.9"/>
<circle cx="1196.7" cy="675.4" r="6.9"/>
<circle cx="1201.2" cy="647.8" r="6.9"/>
<circle cx="1205.4" cy="619.7" r="6.9"/>
<circle cx="1208.8" cy="591.7" r="6.9"/>
<circle cx="1211.3" cy="563.5" r="6.9"/>
<circle cx="1213.8" cy="535.9" r="6.9"/>
<circle cx="1216.3" cy="507.8" r="6.9"/>
<circle cx="1218.8" cy="480.2" r="6.9"/>
<circle cx="1221.3" cy="452.6" r="6.9"/>
<circle cx="1223.8" cy="424.5" r="6.9"/>
<circle cx="1225.1" cy="396.4" r="6.9"/>
<circle cx="1226.3" cy="368.4" r="6.9"/>
<circle cx="1227.5" cy="340.3" r="6.9"/>
<circle cx="1228.5" cy="312.2" r="6.9"/>
<circle cx="1229.7" cy="284.2" r="6.9"/>
<circle cx="1231.0" cy="256.4" r="6.9"/>
<circle cx="1231.7" cy="228.4" r="6.9"/>
<circle cx="1232.5" cy="200.3" r="6.9"/>
<circle cx="1234.3" cy="172.4" r="6.9"/>
<circle cx="1240.2" cy="154.0" r="6.9"/>
<circle cx="1243.9" cy="181.9" r="6.9"/>
<circle cx="1245.9" cy="209.8" r="6.9"/>
<circle cx="1246.9" cy="237.6" r="6.9"/>
<circle cx="1248.6" cy="265.8" r="6.9"/>
<circle cx="1249.7" cy="293.5" r="6.9"/>
<circle cx="1251.4" cy="321.9" r="6.9"/>
<circle cx="1252.6" cy="349.8" r="6.9"/>
<circle cx="1253.9" cy="378.0" r="6.9"/>
<circle cx="1255.6" cy="405.6" r="6.9"/>
<circle cx="1256.5" cy="433.7" r="6.9"/>
<circle cx="1258.0" cy="461.8" r="6.9"/>
<circle cx="1259.5" cy="489.9" r="6.9"/>
<circle cx="1261.5" cy="517.9" r="6.9"/>
<circle cx="1263.1" cy="545.8" r="6.9"/>
<circle cx="1265.3" cy="573.9" r="6.9"/>
<circle cx="1267.3" cy="601.8" r="6.9"/>
<circle cx="1269.5" cy="629.7" r="6.9"/>
<circle cx="1272.0" cy="657.5" r="6.9"/>
<circle cx="1275.5" cy="685.4" r="6.9"/>
<circle cx="1279.9" cy="713.0" r="6.9"/>
<circle cx="1294.0" cy="740.0" r="6.9"/>
<circle cx="1298.6" cy="765.1" r="6.9"/>
<circle cx="1303.6" cy="790.2" r="6.9"/>
<circle cx="1311.1" cy="818.6" r="6.9"/>
<circle cx="1331.2" cy="836.5" r="6.9"/>
<circle cx="1359.2" cy="840.5" r="6.9"/>
<circle cx="1386.7" cy="840.5" r="6.9"/>
<circle cx="1415.0" cy="840.5" r="6.9"/>
<circle cx="1442.5" cy="840.0" r="6.9"/>
<circle cx="1470.0" cy="835.8" r="6.9"/>
<circle cx="1497.5" cy="829.2" r="6.9"/>
<circle cx="1525.0" cy="826.7" r="6.9"/>
<circle cx="1552.5" cy="830.0" r="6.9"/>
<circle cx="1579.2" cy="833.3" r="6.9"/>
<circle cx="1606.7" cy="839.2" r="6.9"/>
<circle cx="1634.2" cy="844.0" r="6.9"/>
<circle cx="1662.5" cy="844.0" r="6.9"/>
<circle cx="1690.4" cy="844.0" r="6.9"/>
<circle cx="1719.2" cy="844.0" r="6.9"/>
</g></g>
<line x1="220.00" y1="165.85" x2="341.50" y2="165.85" stroke="#000" stroke-width="6.8" stroke-linecap="round"/>
<circle cx="219.00" cy="230.1" r="6.9" fill="#000"/>
<circle cx="247.03" cy="230.1" r="6.9" fill="#000"/>
<circle cx="275.06" cy="230.1" r="6.9" fill="#000"/>
<circle cx="303.09" cy="230.1" r="6.9" fill="#000"/>
<circle cx="331.12" cy="230.1" r="6.9" fill="#000"/>
<circle cx="220.30" cy="291.7" r="3.15" fill="#000"/>
<circle cx="234.34" cy="291.7" r="3.15" fill="#000"/>
<circle cx="248.38" cy="291.7" r="3.15" fill="#000"/>
<circle cx="262.42" cy="291.7" r="3.15" fill="#000"/>
<circle cx="276.46" cy="291.7" r="3.15" fill="#000"/>
<circle cx="290.50" cy="291.7" r="3.15" fill="#000"/>
<circle cx="304.54" cy="291.7" r="3.15" fill="#000"/>
<circle cx="318.58" cy="291.7" r="3.15" fill="#000"/>
<circle cx="332.62" cy="291.7" r="3.15" fill="#000"/>
<line x1="219.95" y1="354.5" x2="341.55" y2="354.5" stroke="#000" stroke-width="6.7" stroke-linecap="round" stroke-dasharray="13.0 15.0"/>
<line x1="1528.10" y1="228.8" x2="1649.60" y2="228.8" stroke="#000" stroke-width="6.8" stroke-linecap="round"/>
<circle cx="1527.20" cy="290.8" r="6.9" fill="#000"/>
<circle cx="1555.23" cy="290.8" r="6.9" fill="#000"/>
<circle cx="1583.26" cy="290.8" r="6.9" fill="#000"/>
<circle cx="1611.29" cy="290.8" r="6.9" fill="#000"/>
<circle cx="1639.32" cy="290.8" r="6.9" fill="#000"/>
<circle cx="1528.40" cy="352.5" r="3.15" fill="#000"/>
<circle cx="1542.44" cy="352.5" r="3.15" fill="#000"/>
<circle cx="1556.48" cy="352.5" r="3.15" fill="#000"/>
<circle cx="1570.52" cy="352.5" r="3.15" fill="#000"/>
<circle cx="1584.56" cy="352.5" r="3.15" fill="#000"/>
<circle cx="1598.60" cy="352.5" r="3.15" fill="#000"/>
<circle cx="1612.64" cy="352.5" r="3.15" fill="#000"/>
<circle cx="1626.68" cy="352.5" r="3.15" fill="#000"/>
<circle cx="1640.72" cy="352.5" r="3.15" fill="#000"/>
<line x1="1528.05" y1="415.5" x2="1649.65" y2="415.5" stroke="#000" stroke-width="6.7" stroke-linecap="round" stroke-dasharray="13.0 15.0"/>
<text class="b" x="288.80" y="71.10" font-size="53" letter-spacing="0.61">Diff. Anions;C8</text>
<text class="b" x="269.65" y="977.30" font-size="49.0" letter-spacing="0.13">Temperature (ºC)</text>
<text class="b" transform="translate(67.60,711.05) rotate(-90)" font-size="49.0" letter-spacing="0.06" xml:space="preserve">Deriv. Weight  (%/ºC)</text>
<text x="151.89" y="919.00" font-size="49" letter-spacing="0.85">150</text>
<text x="283.49" y="919.00" font-size="49" letter-spacing="0.85">200</text>
<text x="415.97" y="919.00" font-size="49" letter-spacing="0.85">250</text>
<text x="552.61" y="919.00" font-size="49" letter-spacing="0.85">300</text>
<text x="685.37" y="919.00" font-size="49" letter-spacing="0.85">350</text>
<text x="125.24" y="129.00" font-size="48.5" letter-spacing="-0.40">2</text>
<text x="87.00" y="314.00" font-size="48.5" letter-spacing="-0.40">1.5</text>
<text x="124.05" y="496.00" font-size="48.5" letter-spacing="-0.40">1</text>
<text x="87.00" y="678.00" font-size="48.5" letter-spacing="-0.40">0.5</text>
<text x="123.86" y="863.00" font-size="48.5" letter-spacing="-0.40">0</text>
<text class="b" x="357.28" y="181.00" font-size="48" letter-spacing="1.50">9</text>
<text class="b" x="356.16" y="246.00" font-size="48" letter-spacing="1.50">16</text>
<text class="b" x="356.60" y="309.00" font-size="48" letter-spacing="1.50">17</text>
<text class="b" x="356.16" y="372.00" font-size="48" letter-spacing="1.50">18</text>
<text class="b" x="1152.88" y="79.90" font-size="58" letter-spacing="0.03">Diff. Anions; C8</text>
<text class="b" x="1157.18" y="977.30" font-size="49.0" letter-spacing="0.23">Temperature (ºC)</text>
<text class="b" transform="translate(848.00,727.28) rotate(-90)" font-size="49.0" letter-spacing="0.04" xml:space="preserve">Deriv. Weight  (%/ºC)</text>
<text x="950.31" y="912.00" font-size="42" letter-spacing="1.90" fill="#1a1a1a">0</text>
<text x="1038.43" y="911.00" font-size="42" letter-spacing="1.90" fill="#1a1a1a">100</text>
<text x="1145.60" y="912.00" font-size="42" letter-spacing="1.90" fill="#1a1a1a">200</text>
<text x="1255.82" y="912.00" font-size="42" letter-spacing="1.90" fill="#1a1a1a">300</text>
<text x="1363.05" y="911.00" font-size="42" letter-spacing="1.90" fill="#1a1a1a">400</text>
<text x="1470.15" y="912.00" font-size="42" letter-spacing="1.90" fill="#1a1a1a">500</text>
<text x="1580.02" y="912.00" font-size="42" letter-spacing="1.90" fill="#1a1a1a">600</text>
<text x="1687.73" y="911.00" font-size="42" letter-spacing="1.90" fill="#1a1a1a">700</text>
<text x="870.80" y="127.60" font-size="42.5" fill="#1a1a1a">1.8</text>
<text x="870.80" y="208.92" font-size="42.5" fill="#1a1a1a">1.6</text>
<text x="870.80" y="290.24" font-size="42.5" fill="#1a1a1a">1.4</text>
<text x="870.80" y="371.56" font-size="42.5" fill="#1a1a1a">1.2</text>
<text x="902.30" y="452.88" font-size="42.5" fill="#1a1a1a">1</text>
<text x="870.80" y="534.20" font-size="42.5" fill="#1a1a1a">0.8</text>
<text x="870.80" y="615.52" font-size="42.5" fill="#1a1a1a">0.6</text>
<text x="870.80" y="696.84" font-size="42.5" fill="#1a1a1a">0.4</text>
<text x="870.80" y="778.16" font-size="42.5" fill="#1a1a1a">0.2</text>
<text x="902.30" y="859.48" font-size="42.5" fill="#1a1a1a">0</text>
<text class="b" x="1664.52" y="241.00" font-size="42" letter-spacing="2.00">9</text>
<text class="b" x="1664.22" y="304.00" font-size="42" letter-spacing="2.00">16</text>
<text class="b" x="1664.74" y="368.00" font-size="42" letter-spacing="2.00">17</text>
<text class="b" x="1665.15" y="429.00" font-size="42" letter-spacing="2.00">18</text>
</svg></body></html>
